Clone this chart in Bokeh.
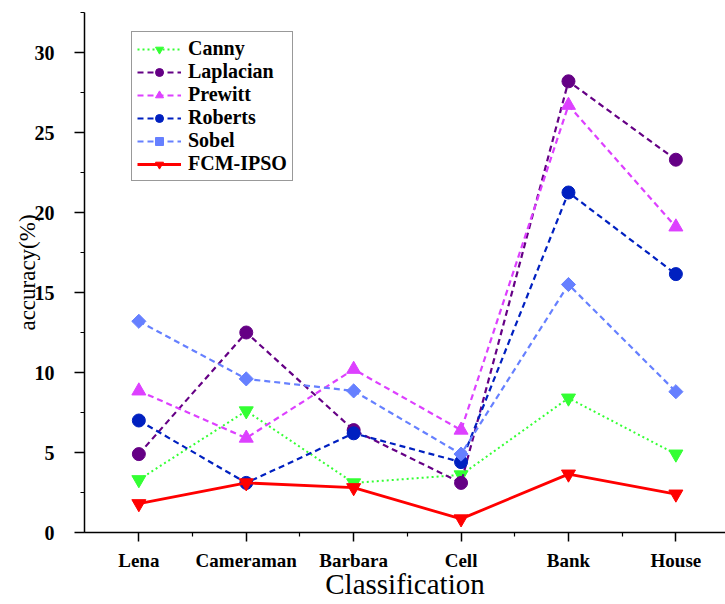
import math
from bokeh.plotting import figure
from bokeh.models import FixedTicker, SingleIntervalTicker, Range1d, Legend, LegendItem
from bokeh.embed import file_html
from bokeh.resources import INLINE

categories = ["Lena", "Cameraman", "Barbara", "Cell", "Bank", "House"]
canny = [3.3, 7.6, 3.1, 3.6, 8.4, 4.9]
laplacian = [4.9, 12.5, 6.4, 3.1, 28.2, 23.3]
prewitt = [8.85, 5.9, 10.2, 6.4, 26.7, 19.1]
roberts = [7.0, 3.1, 6.2, 4.4, 21.25, 16.15]
sobel = [13.2, 9.6, 8.85, 4.9, 15.5, 8.8]
fcm_ipso = [1.8, 3.1, 2.8, 0.85, 3.65, 2.4]

xs = list(range(1, len(categories) + 1))

FONT = "Liberation Serif"

p = figure(width=725, height=604, output_backend="svg", toolbar_location=None,
           x_range=Range1d(0.494, 6.462), y_range=Range1d(0, 32.5),
           min_border_left=84, min_border_right=0, min_border_top=12, min_border_bottom=72)
p.outline_line_color = None
p.xgrid.visible = False
p.ygrid.visible = False
p.background_fill_color = "white"
p.border_fill_color = "white"

# axes
p.xaxis.ticker = FixedTicker(ticks=xs, minor_ticks=[x + 0.5 for x in xs])
p.xaxis.major_label_overrides = {x: c for x, c in zip(xs, categories)}
p.yaxis.ticker = SingleIntervalTicker(interval=5, num_minor_ticks=2)
for ax in (p.xaxis[0], p.yaxis[0]):
    ax.axis_line_color = "black"
    ax.axis_line_width = 1.5
    ax.major_tick_line_color = "black"
    ax.minor_tick_line_color = "black"
    ax.major_tick_line_width = 1.5
    ax.minor_tick_line_width = 1.2
    ax.major_tick_in = 0
    ax.minor_tick_in = 0
    ax.major_label_text_font = FONT
    ax.major_label_text_color = "black"
    ax.axis_label_text_font = FONT
    ax.axis_label_text_font_style = "normal"
    ax.axis_label_text_color = "black"

p.xaxis.major_tick_out = 9
p.xaxis.minor_tick_out = 4
p.xaxis.major_label_text_font_size = "19px"
p.xaxis.major_label_text_font_style = "bold"
p.xaxis.major_label_standoff = 8
p.xaxis.axis_label = "Classification"
p.xaxis.axis_label_text_font_size = "29px"
p.xaxis.axis_label_standoff = -6

p.yaxis.major_tick_out = 10
p.yaxis.minor_tick_out = 4
p.yaxis.major_label_text_font_size = "20px"
p.yaxis.major_label_text_font_style = "bold"
p.yaxis.major_label_standoff = 20
p.yaxis.axis_label = "accuracy(%)"
p.yaxis.axis_label_text_font_size = "23px"
p.yaxis.axis_label_standoff = -8

series = [
    ("Canny", canny, "#33FF33", "2 3", "inverted_triangle", 14, 0, 2),
    ("Laplacian", laplacian, "#650085", "6 4", "circle", 13, 0, 2.2),
    ("Prewitt", prewitt, "#DD40FF", "6 4", "triangle", 14, 0, 2.2),
    ("Roberts", roberts, "#0020C0", "6 4", "circle", 13, 0, 2.2),
    ("Sobel", sobel, "#6680FF", "6 4", "square", 10, math.pi / 4, 2.2),
    ("FCM-IPSO", fcm_ipso, "#FF0000", "solid", "inverted_triangle", 14, 0, 2.8),
]

items = []
for name, ys, color, dash, marker, size, ang, lw in series:
    r1 = p.line(xs, ys, line_color=color, line_dash=dash, line_width=lw)
    r2 = p.scatter(xs, ys, marker=marker, size=size, angle=ang,
                   fill_color=color, line_color=color)
    items.append(LegendItem(label=name, renderers=[r1, r2]))

legend = Legend(items=items, location=(47, 351))
legend.label_text_font = FONT
legend.label_text_font_style = "bold"
legend.label_text_font_size = "20px"
legend.label_text_color = "black"
legend.glyph_width = 44
legend.glyph_height = 20
legend.label_height = 20
legend.label_standoff = 7
legend.spacing = 0
legend.padding = 5
legend.margin = 0
legend.border_line_color = "#333333"
legend.border_line_width = 1
legend.background_fill_color = "white"
legend.background_fill_alpha = 1
p.add_layout(legend, "center")

open("out.html", "w").write(file_html(p, INLINE))
